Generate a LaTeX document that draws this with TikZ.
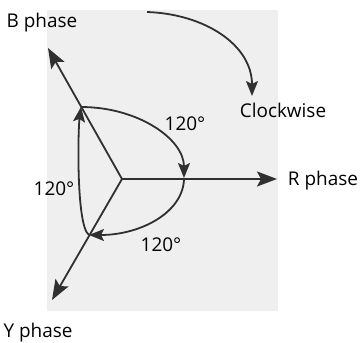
\documentclass[tikz,border=0pt]{standalone}
\usepackage{fontspec}
\setmainfont{Open Sans}
\usetikzlibrary{arrows.meta}
\definecolor{bg}{HTML}{EFEFEF}
\definecolor{ink}{HTML}{303030}
\begin{document}
\begin{tikzpicture}[x=1bp,y=-1bp,
  vec/.style={draw=ink,line width=1.8bp,-{Stealth[length=20bp,width=15bp,inset=4bp]}},
  rot/.style={draw=ink,line width=1.8bp,-{Stealth[length=15bp,width=12bp,inset=3bp]}},
  lbl/.style={font=\fontsize{19}{21}\selectfont,text=black,inner sep=0pt}]
\useasboundingbox (0,0) rectangle (360,343);
\fill[bg] (47,10) rectangle (278,311);
\coordinate (O) at (122,179);
\coordinate (Rt) at (277,179);
\coordinate (Bt) at (48,48);
\coordinate (Yt) at (52,300);
\coordinate (Bp) at (81,107);
\coordinate (Rp) at (184,178);
\coordinate (Yp) at (89,235);
\coordinate (Cs) at (147,12);
\coordinate (Ce) at (252,96);
% phasors
\draw[vec] (O) -- (Rt);
\draw[vec] (O) -- (Bt);
\draw[vec] (O) -- (Yt);
% rotation arcs
\draw[rot] (Bp) .. controls (138,107) and (184,139) .. (Rp);
\draw[rot] (Rp) .. controls (184,212) and (141,235) .. (Yp);
\draw[rot] (Yp) .. controls (76,226) and (78,130) .. (Bp);
\draw[rot] (Cs) .. controls (205,14) and (252,45) .. (Ce);
% labels
\node[lbl] (bl) at (42,23) {B phase};
\node[lbl] (rl) at (323,181) {R phase};
\node[lbl] (yl) at (38,333) {Y phase};
\node[lbl] (cl) at (283,110) {Clockwise};
\node[lbl] (a1) at (185,124) {120°};
\node[lbl] (a2) at (54,189) {120°};
\node[lbl] (a3) at (161,245) {120°};
\end{tikzpicture}
\end{document}
